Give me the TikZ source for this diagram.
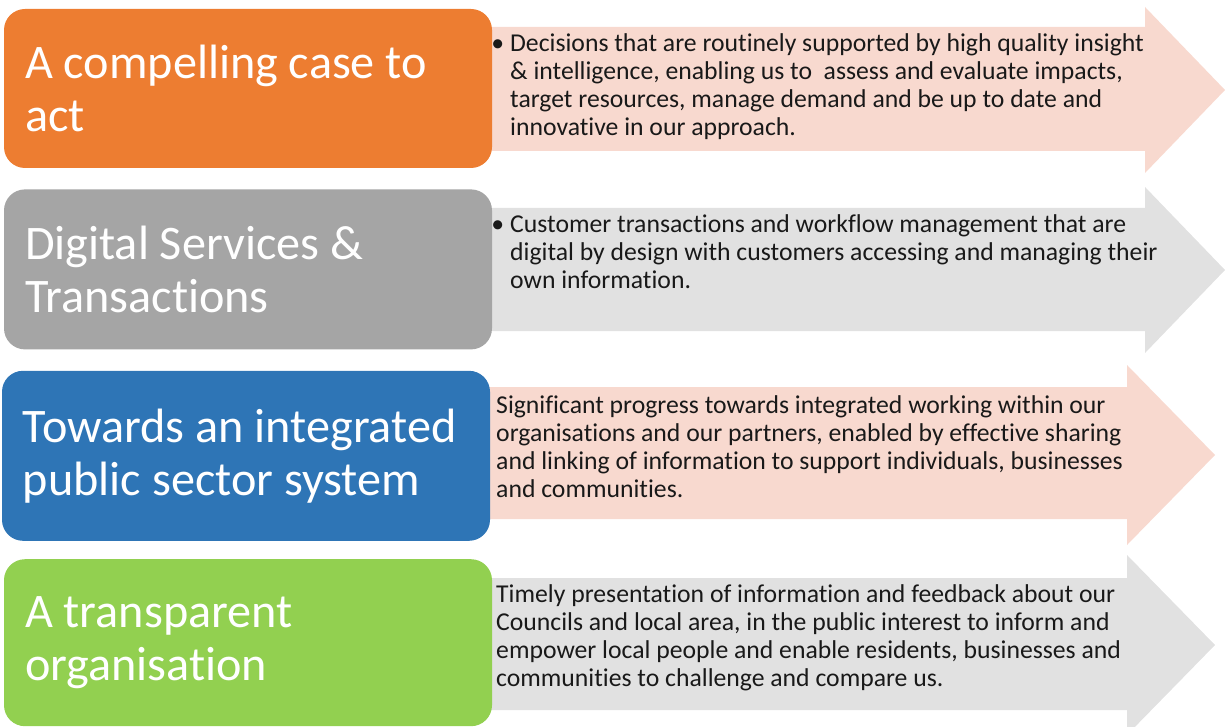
\documentclass[tikz,border=0pt]{standalone}
\usepackage{fontspec}
\setmainfont{Carlito}[Ligatures={NoCommon,NoContextual}]
\usepackage{tikz}
\usetikzlibrary{positioning,backgrounds}
\usepackage{xcolor}
\definecolor{case_orange}{HTML}{ED7D31}
\definecolor{digital_grey}{HTML}{A5A5A5}
\definecolor{sector_blue}{HTML}{2E75B6}
\definecolor{open_green}{HTML}{92D050}
\definecolor{arrow_pink}{HTML}{F8D9CF}
\definecolor{arrow_grey}{HTML}{E1E1E1}

\begin{document}
\begin{tikzpicture}[x=1pt, y=-1pt,
  title_box/.style={rectangle, rounded corners=21pt, minimum width=488pt, inner xsep=21pt, text width=446pt, align=flush left, text=white, font=\fontsize{48.2}{53}\selectfont},
  arrow_text/.style={rectangle, anchor=north west, inner sep=0pt, text width=700pt, align=flush left, text=black!90, font=\fontsize{25.7}{28}\selectfont}]
\useasboundingbox (0,0) rectangle (1225,727);
\clip (0,0) rectangle (1225,727);

\node[title_box, fill=case_orange, minimum height=159pt] (case_box) at (248,88.5) {A compelling case to\\act};
\node[title_box, fill=digital_grey, minimum height=160pt, below = 21pt of case_box] (digital_box) {Digital Services \&\\Transactions};
\node[title_box, fill=sector_blue, minimum height=170pt, below = 21pt of digital_box, xshift=-2pt] (sector_box) {Towards an integrated\\public sector system};
\node[title_box, fill=open_green, minimum height=167pt, below = 18pt of sector_box, xshift=2pt] (open_box) {A transparent\\organisation};

\begin{scope}[on background layer]
\fill[arrow_pink] (480,27) -- (1145,27) -- (1145,7) -- (1225,90) -- (1145,173) -- (1145,151) -- (480,151) -- cycle;
\fill[arrow_grey] (480,208) -- (1145,208) -- (1145,187) -- (1225,270) -- (1145,353) -- (1145,331) -- (480,331) -- cycle;
\fill[arrow_pink] (480,387) -- (1127,387) -- (1127,365) -- (1215,455) -- (1127,545) -- (1127,519) -- (480,519) -- cycle;
\fill[arrow_grey] (480,578) -- (1127,578) -- (1127,555) -- (1215,645) -- (1127,735) -- (1127,710) -- (480,710) -- cycle;
\end{scope}

\node[arrow_text] (case_text) at (510,33) {\llap{\textbullet\hspace{6pt}}Decisions that are routinely supported by high quality insight\\\& intelligence, enabling us to~ assess and evaluate impacts,\\target resources, manage demand and be up to date and\\innovative in our approach.};
\node[arrow_text] (digital_text) at (510,214) {\llap{\textbullet\hspace{6pt}}Customer transactions and workflow management that are\\digital by design with customers accessing and managing their\\own information.};
\node[arrow_text] (sector_text) at (496,395) {Significant progress towards integrated working within our\\organisations and our partners, enabled by effective sharing\\and linking of information to support individuals, businesses\\and communities.};
\node[arrow_text] (open_text) at (496,584) {Timely presentation of information and feedback about our\\Councils and local area, in the public interest to inform and\\empower local people and enable residents, businesses and\\communities to challenge and compare us.};
\end{tikzpicture}
\end{document}
